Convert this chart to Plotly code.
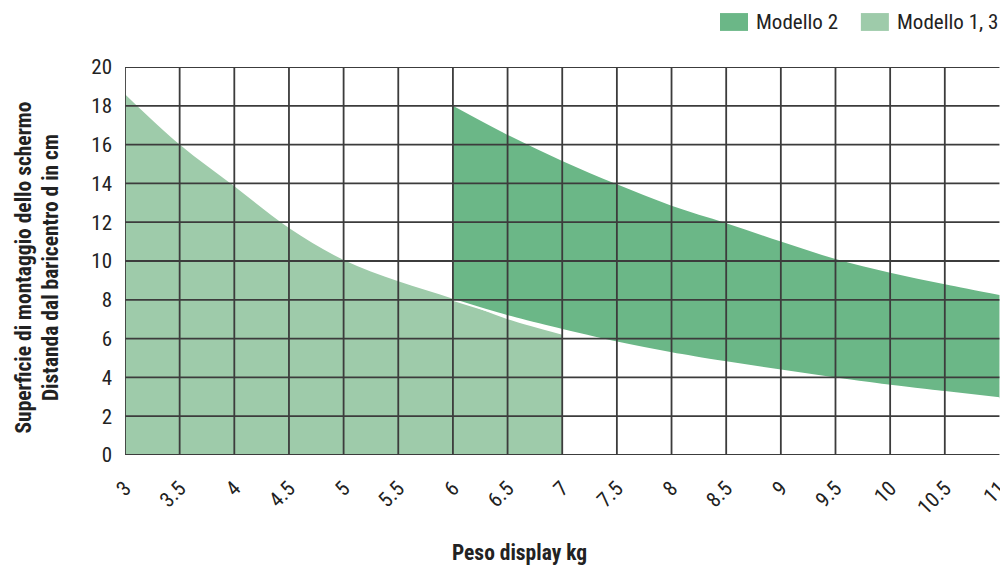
import plotly.graph_objects as go

# ---- data ----
x_ticks = [3, 3.5, 4, 4.5, 5, 5.5, 6, 6.5, 7, 7.5, 8, 8.5, 9, 9.5, 10, 10.5, 11]
y_ticks = [0, 2, 4, 6, 8, 10, 12, 14, 16, 18, 20]

x_m13 = [3, 3.5, 4, 4.5, 5, 5.5, 6, 6.5, 7]
y_m13 = [18.6, 16.0, 13.85, 11.7, 10.05, 8.95, 8.05, 7.0, 6.2]

x_m2 = [6, 6.5, 7, 7.5, 8, 8.5, 9, 9.5, 10, 10.5, 11]
y_m2_upper = [18.0, 16.5, 15.15, 13.95, 12.85, 11.95, 11.0, 10.1, 9.4, 8.8, 8.25]
y_m2_lower = [8.0, 7.15, 6.45, 5.8, 5.25, 4.78, 4.35, 3.95, 3.57, 3.25, 2.93]

series_names = ["Modello 2", "Modello 1, 3"]
x_title = "Peso display kg"
y_title = "Superficie di montaggio dello schermo<br>Distanda dal baricentro d in cm"

# ---- styles ----
DARK = "#6bb787"
LIGHT = "#9ecbaa"
GRID = "#3c3c3c"
FONT = "Roboto Condensed, Liberation Sans Narrow, DejaVu Sans Condensed, Roboto, sans-serif"

fig = go.Figure()

fig.add_trace(go.Scatter(
    x=x_m13, y=y_m13, mode="lines", line=dict(width=0, shape="spline"),
    fill="tozeroy", fillcolor=LIGHT, name=series_names[1], showlegend=False,
    hoverinfo="skip"))

fig.add_trace(go.Scatter(
    x=x_m2, y=y_m2_lower, mode="lines", line=dict(width=0, shape="spline"),
    showlegend=False, hoverinfo="skip"))
fig.add_trace(go.Scatter(
    x=x_m2, y=y_m2_upper, mode="lines", line=dict(width=0, shape="spline"),
    fill="tonexty", fillcolor=DARK, name=series_names[0], showlegend=False,
    hoverinfo="skip"))
# white separator along the lower edge of Modello 2
fig.add_trace(go.Scatter(
    x=x_m2, y=y_m2_lower, mode="lines", line=dict(width=2, color="white", shape="spline"),
    showlegend=False, hoverinfo="skip"))

# grid drawn above the filled areas
for xv in x_ticks:
    if xv >= 11:
        continue
    fig.add_shape(type="line", xref="x", yref="y", x0=xv, x1=xv, y0=0, y1=20,
                  line=dict(color=GRID, width=1.8), layer="above")
for yv in y_ticks:
    fig.add_shape(type="line", xref="x", yref="y", x0=3, x1=11, y0=yv, y1=yv,
                  line=dict(color=GRID, width=1.8), layer="above")

# manual legend
legend_items = [(series_names[0], DARK, 0.680, 0.712, 0.719),
                (series_names[1], LIGHT, 0.841, 0.873, 0.880)]
for name, col, sx0, sx1, tx in legend_items:
    fig.add_shape(type="rect", xref="paper", yref="paper", x0=sx0, x1=sx1,
                  y0=1.093, y1=1.139, fillcolor=col, line=dict(width=0))
    fig.add_annotation(text=name, xref="paper", yref="paper", x=tx, y=1.116,
                       xanchor="left", yanchor="middle", showarrow=False,
                       font=dict(family=FONT, size=21, color="#222"))

fig.add_annotation(text=x_title, xref="paper", yref="paper", x=0.451, y=-0.252,
                   xanchor="center", yanchor="middle", showarrow=False,
                   font=dict(family=FONT, size=21.5, color="#222", weight="bold"))
fig.add_annotation(text=y_title, xref="paper", yref="paper", x=-0.10, y=0.482,
                   xanchor="center", yanchor="middle", showarrow=False, textangle=-90,
                   font=dict(family=FONT, size=21.5, color="#222", weight="bold"))

fig.update_xaxes(range=[3, 11.005], tickvals=x_ticks, ticktext=[f"{v:g}" for v in x_ticks],
                 tickangle=-45, showgrid=False, zeroline=False, showline=False,
                 ticks="", ticklabelstandoff=16, automargin=False,
                 ticklabeloverflow="allow",
                 tickfont=dict(family=FONT, size=21, color="#222"))
fig.update_yaxes(range=[0, 20], tickvals=y_ticks, showgrid=False, zeroline=False,
                 showline=False, ticks="", ticklabelstandoff=12, automargin=False,
                 tickfont=dict(family=FONT, size=21, color="#222"))

fig.update_layout(width=1000, height=568,
                  margin=dict(l=125, r=0, t=67, b=113),
                  plot_bgcolor="white", paper_bgcolor="white",
                  font=dict(family=FONT, color="#222"))

fig.write_html("out.html", config={"displayModeBar": False},
               post_script="document.body.style.margin='0';document.body.style.overflow='hidden';")
